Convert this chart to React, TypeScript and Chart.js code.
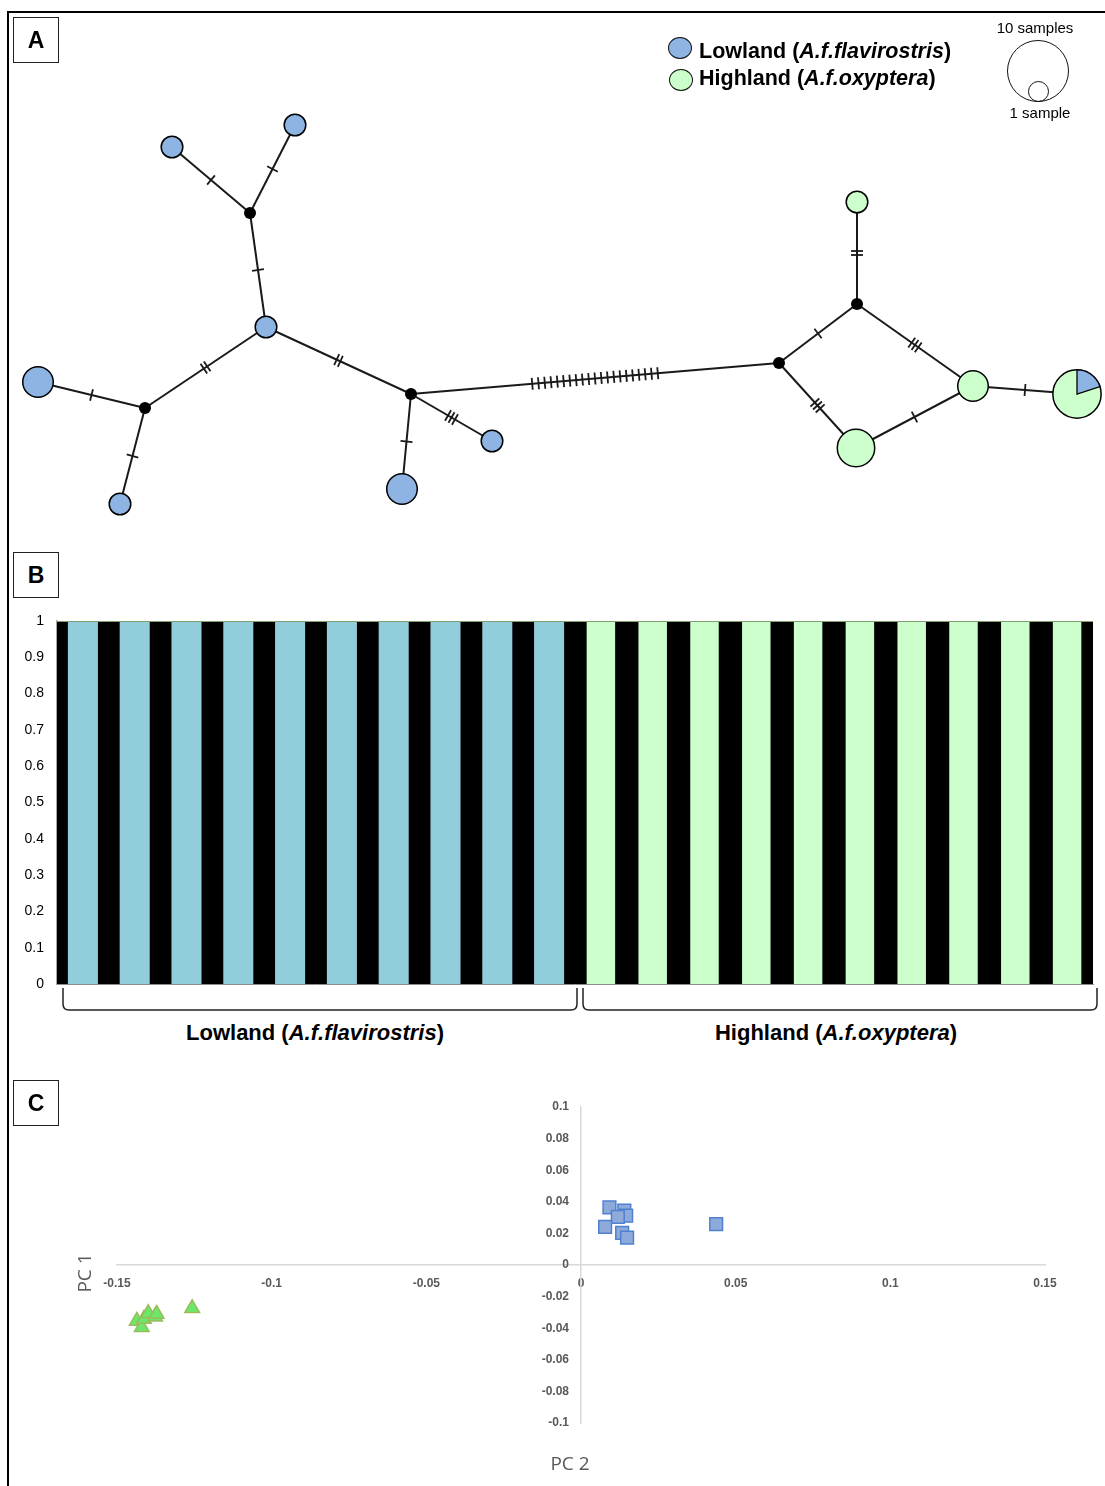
import React, { useEffect, useRef } from "react";
import { Chart, registerables } from "chart.js";

Chart.register(...registerables);

const FONT = '"Liberation Sans", Arial, Helvetica, sans-serif';
const BLUE = "#8db4e2";
const GREEN = "#ccffcc";

// ---------- Panel A: haplotype network (layout positions) ----------
const nodeNames = ["H1", "H2", "mv1", "H3", "H4", "mv2", "H5", "mv3", "H6", "H7", "mv4", "mv5", "H8", "H9", "H10", "H11"];
const nodeX = [172, 295, 250, 266, 38, 145, 120, 411, 402, 492, 779, 857, 857, 973, 856, 1077];
const nodeY = [147, 125, 213, 327, 382, 408, 504, 394, 489, 441, 363, 304, 202, 386, 448, 394];
const lowlandCount = [1, 1, 0, 1, 2, 0, 1, 0, 2, 1, 0, 0, 0, 0, 0, 1];
const highlandCount = [0, 0, 0, 0, 0, 0, 0, 0, 0, 0, 0, 0, 1, 2, 3, 4];
const edgeFrom = [0, 1, 2, 3, 5, 5, 3, 7, 7, 7, 10, 11, 11, 10, 14, 13];
const edgeTo = [2, 2, 3, 5, 4, 6, 7, 8, 9, 10, 11, 12, 13, 14, 13, 15];
const edgeMutations = [1, 1, 1, 2, 1, 1, 2, 1, 3, 21, 1, 2, 3, 3, 1, 1];

// ---------- Panel B: STRUCTURE membership ----------
const individuals = ["L1", "L2", "L3", "L4", "L5", "L6", "L7", "L8", "L9", "L10", "H1", "H2", "H3", "H4", "H5", "H6", "H7", "H8", "H9", "H10"];
const lowlandMembership = [1, 1, 1, 1, 1, 1, 1, 1, 1, 1, 0, 0, 0, 0, 0, 0, 0, 0, 0, 0];
const highlandMembership = [0, 0, 0, 0, 0, 0, 0, 0, 0, 0, 1, 1, 1, 1, 1, 1, 1, 1, 1, 1];

// ---------- Panel C: PCA ----------
const lowlandPC2 = [0.0092, 0.014, 0.0146, 0.0119, 0.0078, 0.0133, 0.0149, 0.0437];
const lowlandPC1 = [0.0365, 0.0344, 0.0312, 0.0304, 0.0242, 0.0204, 0.0173, 0.0258];
const highlandPC2 = [-0.1436, -0.142, -0.1413, -0.1399, -0.1377, -0.1372, -0.1257];
const highlandPC1 = [-0.0354, -0.0394, -0.0342, -0.0306, -0.0327, -0.031, -0.0274];

const fmt = (v: number) => String(Number(Number(v).toFixed(2)));

const nodeRadius = (i: number) => {
  const n = lowlandCount[i] + highlandCount[i];
  return n > 0 ? 10.8 * Math.sqrt(n) : 6;
};
const nodeColor = (i: number) => {
  if (lowlandCount[i] + highlandCount[i] === 0) return "#000";
  return highlandCount[i] >= lowlandCount[i] ? GREEN : BLUE;
};

const networkPlugin = {
  id: "network",
  afterDatasetsDraw(chart: any) {
    const { ctx, scales } = chart;
    const xs = scales.x, ys = scales.y;
    ctx.save();
    ctx.strokeStyle = "#1a1a1a";
    ctx.lineWidth = 1.8;
    edgeFrom.forEach((a, k) => {
      const b = edgeTo[k];
      const n = edgeMutations[k];
      const x1 = xs.getPixelForValue(nodeX[a]), y1 = ys.getPixelForValue(nodeY[a]);
      const x2 = xs.getPixelForValue(nodeX[b]), y2 = ys.getPixelForValue(nodeY[b]);
      const dx = x2 - x1, dy = y2 - y1;
      const len = Math.hypot(dx, dy);
      const ux = dx / len, uy = dy / len;
      const px = -uy, py = ux;
      const mx = (x1 + x2) / 2, my = (y1 + y2) / 2;
      const gap = n > 4 ? 6.3 : 4;
      const half = 6;
      for (let i = 0; i < n; i++) {
        const off = (i - (n - 1) / 2) * gap;
        const cx = mx + ux * off, cy = my + uy * off;
        ctx.beginPath();
        ctx.moveTo(cx + px * half, cy + py * half);
        ctx.lineTo(cx - px * half, cy - py * half);
        ctx.stroke();
      }
    });
    const meta = chart.getDatasetMeta(0);
    meta.data.forEach((pt: any, i: number) => {
      const L = lowlandCount[i], H = highlandCount[i];
      if (L > 0 && H > 0) {
        const r = nodeRadius(i);
        const start = -Math.PI / 2;
        const end = start + (2 * Math.PI * L) / (L + H);
        ctx.beginPath();
        ctx.moveTo(pt.x, pt.y);
        ctx.arc(pt.x, pt.y, r, start, end);
        ctx.closePath();
        ctx.fillStyle = BLUE;
        ctx.fill();
        ctx.lineWidth = 1.3;
        ctx.strokeStyle = "#000";
        ctx.stroke();
      }
    });
    ctx.restore();
  },
};

const structurePlugin = {
  id: "structureBg",
  beforeDatasetsDraw(chart: any) {
    const { ctx, chartArea } = chart;
    ctx.save();
    ctx.fillStyle = "#000";
    ctx.fillRect(chartArea.left, chartArea.top, chartArea.right - chartArea.left, chartArea.bottom - chartArea.top);
    ctx.restore();
  },
  afterDatasetsDraw(chart: any) {
    const { ctx, chartArea, scales } = chart;
    const y = scales.y.getPixelForValue(1);
    ctx.save();
    ctx.strokeStyle = "#7f9f6f";
    ctx.lineWidth = 1;
    ctx.beginPath();
    ctx.moveTo(chartArea.left, y + 0.5);
    ctx.lineTo(chartArea.right, y + 0.5);
    ctx.stroke();
    ctx.restore();
  },
};

const pcaYLabels = {
  id: "pcaYLabels",
  afterDraw(chart: any) {
    const { ctx, scales } = chart;
    const x0 = scales.x.getPixelForValue(0);
    ctx.save();
    ctx.font = `bold 12px ${FONT}`;
    ctx.fillStyle = "#595959";
    ctx.textAlign = "right";
    ctx.textBaseline = "middle";
    scales.y.ticks.forEach((t: any) => {
      ctx.fillText(fmt(t.value), x0 - 12, scales.y.getPixelForValue(t.value));
    });
    ctx.restore();
  },
};

export default function App() {
  const refA = useRef<HTMLCanvasElement>(null);
  const refB = useRef<HTMLCanvasElement>(null);
  const refC = useRef<HTMLCanvasElement>(null);

  useEffect(() => {
    Chart.defaults.font.family = FONT;
    const charts: Chart[] = [];

    const radii = nodeNames.map((_, i) => nodeRadius(i));
    const colors = nodeNames.map((_, i) => nodeColor(i));
    const borders = nodeNames.map((_, i) => (lowlandCount[i] + highlandCount[i] > 0 ? 1.5 : 0));

    charts.push(
      new Chart(refA.current!, {
        type: "scatter",
        data: {
          datasets: [
            {
              label: "haplotypes",
              data: nodeX.map((x, i) => ({ x, y: nodeY[i] })),
              pointRadius: radii,
              pointHoverRadius: radii,
              pointBackgroundColor: colors,
              pointBorderColor: "#000",
              pointBorderWidth: borders,
              clip: false,
              order: 0,
            } as any,
            ...edgeFrom.map((a, k) => ({
              label: "edge" + k,
              data: [
                { x: nodeX[a], y: nodeY[a] },
                { x: nodeX[edgeTo[k]], y: nodeY[edgeTo[k]] },
              ],
              showLine: true,
              borderColor: "#1a1a1a",
              borderWidth: 2,
              pointRadius: 0,
              order: 1,
            })),
          ],
        },
        options: {
          responsive: false,
          animation: false,
          events: [],
          layout: { padding: 0, autoPadding: false },
          plugins: { legend: { display: false }, tooltip: { enabled: false } },
          scales: {
            x: { type: "linear", min: 0, max: 1105, display: false },
            y: { type: "linear", min: 0, max: 545, reverse: true, display: false },
          },
        } as any,
        plugins: [networkPlugin],
      })
    );

    charts.push(
      new Chart(refB.current!, {
        type: "bar",
        data: {
          labels: individuals,
          datasets: [
            { label: "Lowland cluster", data: lowlandMembership, backgroundColor: "#92cddc", barPercentage: 0.58, categoryPercentage: 1, borderWidth: 0 },
            { label: "Highland cluster", data: highlandMembership, backgroundColor: GREEN, barPercentage: 0.55, categoryPercentage: 1, borderWidth: 0 },
          ],
        },
        options: {
          responsive: false,
          animation: false,
          events: [],
          layout: { padding: { left: 0, right: 12, top: 21, bottom: 16 } },
          plugins: { legend: { display: false }, tooltip: { enabled: false } },
          scales: {
            x: {
              stacked: true,
              grid: { display: false, drawTicks: false },
              ticks: { display: false },
              border: { color: "#8c8c8c", width: 1 },
            },
            y: {
              stacked: true,
              min: 0,
              max: 1,
              ticks: { stepSize: 0.1, color: "#000", font: { size: 14, family: FONT }, padding: 5, callback: (v: any) => fmt(v) },
              grid: { display: false },
              border: { color: "#a6a6a6", width: 1.5 },
              afterFit: (s: any) => {
                s.width = 57;
              },
            } as any,
          },
        },
        plugins: [structurePlugin],
      })
    );

    charts.push(
      new Chart(refC.current!, {
        type: "scatter",
        data: {
          datasets: [
            {
              label: "Lowland",
              data: lowlandPC2.map((x, i) => ({ x, y: lowlandPC1[i] })),
              pointStyle: "rect",
              pointRadius: 9,
              pointBackgroundColor: "#8eaadb",
              pointBorderColor: "#4f81d0",
              pointBorderWidth: 1.5,
            },
            {
              label: "Highland",
              data: highlandPC2.map((x, i) => ({ x, y: highlandPC1[i] })),
              pointStyle: "triangle",
              pointRadius: 8.5,
              pointBackgroundColor: "#6be86b",
              pointBorderColor: "#9bbb59",
              pointBorderWidth: 1.5,
            },
          ],
        },
        options: {
          responsive: false,
          animation: false,
          events: [],
          layout: { padding: { left: 117, right: 60, top: 17, bottom: 63 } },
          plugins: { legend: { display: false }, tooltip: { enabled: false } },
          scales: {
            x: {
              type: "linear",
              position: { y: 0 } as any,
              min: -0.15,
              max: 0.15,
              ticks: { stepSize: 0.05, color: "#595959", font: { weight: "bold", size: 12, family: FONT }, callback: (v: any) => fmt(v) },
              grid: { display: false },
              border: { color: "#d9d9d9", width: 1.5 },
            },
            y: {
              type: "linear",
              position: { x: 0 } as any,
              min: -0.1,
              max: 0.1,
              ticks: { display: false, stepSize: 0.02 },
              grid: { display: false },
              border: { color: "#d9d9d9", width: 1.5 },
            },
          },
        },
        plugins: [pcaYLabels],
      })
    );

    return () => charts.forEach((c) => c.destroy());
  }, []);

  const abs = (s: any) => ({ position: "absolute", ...s } as React.CSSProperties);
  const panelBox = (top: number, letter: string) => (
    <div
      style={abs({
        left: 13,
        top,
        width: 46,
        height: 46,
        boxSizing: "border-box",
        border: "1.5px solid #222",
        display: "flex",
        alignItems: "center",
        justifyContent: "center",
        font: `bold 23px ${FONT}`,
        color: "#000",
      })}
    >
      {letter}
    </div>
  );
  const ellipse = (left: number, top: number, w: number, h: number, bg: string) => (
    <div
      style={abs({
        left,
        top,
        width: w,
        height: h,
        boxSizing: "border-box",
        border: "1.5px solid #111",
        borderRadius: "50%",
        background: bg,
      })}
    />
  );

  return (
    <div style={abs({ left: 0, top: 0, width: 1105, height: 1486, background: "#fff", overflow: "hidden", fontFamily: FONT, color: "#000" })}>
      {/* frame */}
      <div style={abs({ left: 7, top: 11, width: 1098, height: 2, background: "#000" })} />
      <div style={abs({ left: 7, top: 11, width: 2, height: 1475, background: "#000" })} />

      <canvas ref={refA} width={1105} height={545} style={abs({ left: 0, top: 0 })} />
      <canvas ref={refB} width={1105} height={400} style={abs({ left: 0, top: 600 })} />
      <canvas ref={refC} width={1105} height={396} style={abs({ left: 0, top: 1090 })} />

      {panelBox(17, "A")}
      {panelBox(552, "B")}
      {panelBox(1080, "C")}

      {/* Panel A legend */}
      {ellipse(668, 37, 24, 22, BLUE)}
      <div style={abs({ left: 699, top: 38, font: `bold 21.5px ${FONT}`, lineHeight: "26px", whiteSpace: "nowrap" })}>
        Lowland (<i>A.f.flavirostris</i>)
      </div>
      {ellipse(669, 69, 24, 22, GREEN)}
      <div style={abs({ left: 699, top: 65, font: `bold 21.5px ${FONT}`, lineHeight: "26px", whiteSpace: "nowrap" })}>
        Highland (<i>A.f.oxyptera</i>)
      </div>
      <div style={abs({ left: 975, top: 19, width: 120, textAlign: "center", font: `15px ${FONT}`, lineHeight: "18px" })}>10 samples</div>
      {ellipse(1007, 40, 62, 62, "transparent")}
      {ellipse(1028, 81, 21, 21, "transparent")}
      <div style={abs({ left: 980, top: 104, width: 120, textAlign: "center", font: `15px ${FONT}`, lineHeight: "18px" })}>1 sample</div>

      {/* Panel B brackets and group labels */}
      <svg width={1105} height={40} style={abs({ left: 0, top: 980 })}>
        <path d="M63,8 L63,24 Q63,30 69,30 L571,30 Q577,30 577,24 L577,8" fill="none" stroke="#222" strokeWidth={1.5} />
        <path d="M583,8 L583,24 Q583,30 589,30 L1091,30 Q1097,30 1097,24 L1097,8" fill="none" stroke="#222" strokeWidth={1.5} />
      </svg>
      <div style={abs({ left: 115, top: 1020, width: 400, textAlign: "center", font: `bold 22px ${FONT}`, lineHeight: "26px", whiteSpace: "nowrap" })}>
        Lowland (<i>A.f.flavirostris</i>)
      </div>
      <div style={abs({ left: 636, top: 1020, width: 400, textAlign: "center", font: `bold 22px ${FONT}`, lineHeight: "26px", whiteSpace: "nowrap" })}>
        Highland (<i>A.f.oxyptera</i>)
      </div>

      {/* Panel C axis titles */}
      <div style={abs({ left: 520, top: 1450, width: 100, textAlign: "center", font: `19px "Open Sans", ${FONT}`, color: "#595959", lineHeight: "26px" })}>PC 2</div>
      <div
        style={abs({
          left: 34,
          top: 1260,
          width: 100,
          textAlign: "center",
          font: `19px "Open Sans", ${FONT}`,
          color: "#595959",
          lineHeight: "26px",
          transform: "rotate(-90deg)",
        })}
      >
        PC 1
      </div>
    </div>
  );
}
